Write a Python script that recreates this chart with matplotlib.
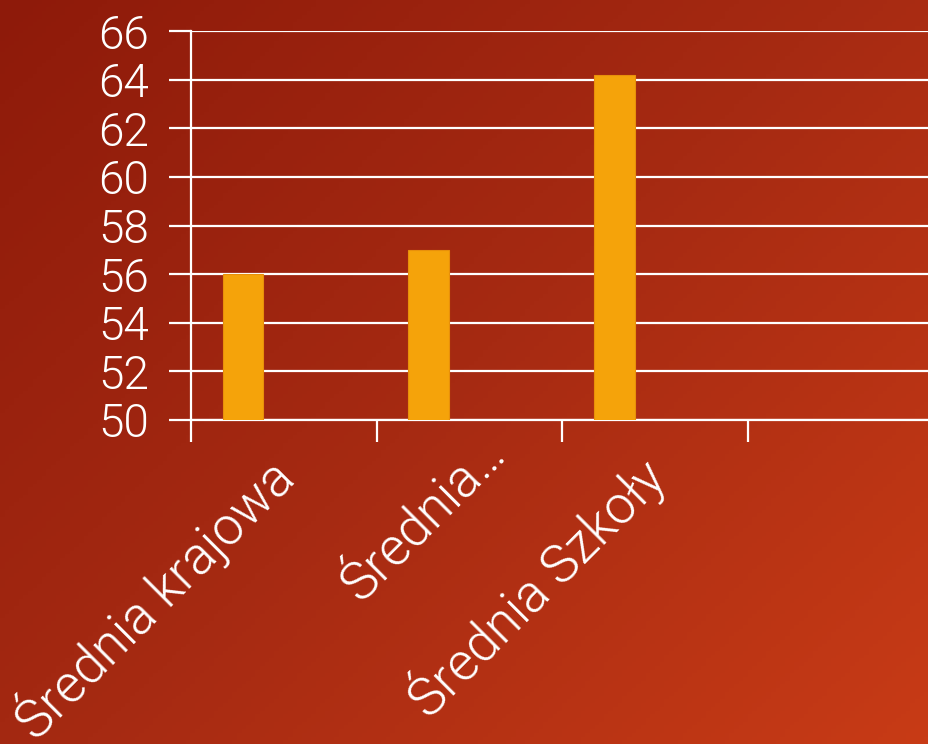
import matplotlib.pyplot as plt
import matplotlib.transforms as mtransforms
import numpy as np
from matplotlib.colors import LinearSegmentedColormap

# data
categories = ['Średnia krajowa', 'Średnia…', 'Średnia Szkoły', '']
values = [56, 57, 64.2, np.nan]
yticks = [50, 52, 54, 56, 58, 60, 62, 64, 66]

plt.rcParams['font.family'] = ['Roboto', 'DejaVu Sans']
plt.rcParams['font.weight'] = 300

fig = plt.figure(figsize=(9.29, 7.44), dpi=100)

# background gradient, dark red top-left to orange-red bottom-right
bg = fig.add_axes([0, 0, 1, 1], zorder=-1)
gx, gy = np.meshgrid(np.linspace(0, 1, 200), np.linspace(0, 1, 200))
grad = 0.55 * gx + 0.45 * gy
cmap = LinearSegmentedColormap.from_list('bg', ['#8E1A0A', '#A62A12', '#C83B16'])
bg.imshow(grad, cmap=cmap, aspect='auto', extent=[0, 1, 0, 1], origin='upper')
bg.axis('off')

ax = fig.add_axes([0.2056, 0.4355, 0.799, 0.5228])
ax.patch.set_alpha(0)

x = np.arange(len(categories))
ax.bar(x - 0.22, values, width=0.22, bottom=0, color='#F5A30A',
       edgecolor='#E8900A', linewidth=0.8, zorder=3)

ax.set_xlim(-0.5, len(categories) - 0.5)
ax.set_ylim(50, 66)
ax.set_yticks(yticks)
ax.set_yticklabels([str(v) for v in yticks], fontsize=33, color='white')
ax.yaxis.grid(True, color='white', linewidth=1.6, zorder=1)
ax.set_axisbelow(True)

ax.set_xticks(np.arange(len(categories) + 1) - 0.5, minor=False)
ax.set_xticklabels([])
ax.set_xticks(x, minor=True)
labels = ax.set_xticklabels(categories, minor=True, rotation=45, ha='right', va='center',
                            rotation_mode='anchor', fontsize=38, color='white')
ax.tick_params(axis='x', which='minor', length=0, pad=34)
ax.tick_params(axis='x', which='major', length=16, width=1.6, color='white')
ax.tick_params(axis='y', length=16, width=1.6, color='white', pad=14)

# the shortened middle label sits a bit higher/right in the original
labels[1].set_transform(labels[1].get_transform() +
                        mtransforms.ScaledTranslation(0.28, 0.22, fig.dpi_scale_trans))

for s in ['top', 'right']:
    ax.spines[s].set_visible(False)
for s in ['left', 'bottom']:
    ax.spines[s].set_color('white')
    ax.spines[s].set_linewidth(1.6)

fig.savefig('out.png', dpi=100)
